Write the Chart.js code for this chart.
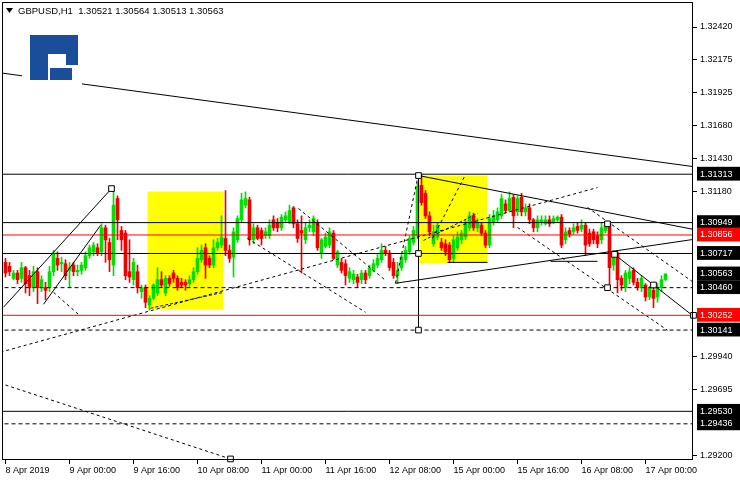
<!DOCTYPE html>
<html>
<head>
<meta charset="utf-8">
<title>GBPUSD H1</title>
<script src="https://cdn.jsdelivr.net/npm/chart.js@4.4.1/dist/chart.umd.min.js"></script>
<style>
  html, body { margin: 0; padding: 0; background: #fff; }
  canvas { display: block; }
</style>
</head>
<body>
<canvas id="chart" width="740" height="480"></canvas>
<script>
const symbolName = 'GBPUSD,H1';

// one row per H1 bar: [open, high, low, close]
const candles = [
  [1.3065, 1.3068, 1.3054, 1.3057], [1.3062, 1.3065, 1.3055, 1.3058], [1.3053, 1.3059, 1.3052, 1.3057], [1.3057, 1.3059, 1.3049, 1.3052],
  [1.3053, 1.3065, 1.3050, 1.3061], [1.3061, 1.3062, 1.3042, 1.3049], [1.3055, 1.3059, 1.3040, 1.3046], [1.3046, 1.3062, 1.3043, 1.3058],
  [1.3058, 1.3061, 1.3034, 1.3046], [1.3046, 1.3055, 1.3043, 1.3052], [1.3046, 1.3050, 1.3037, 1.3044], [1.3046, 1.3062, 1.3043, 1.3058],
  [1.3058, 1.3074, 1.3055, 1.3072], [1.3068, 1.3073, 1.3059, 1.3063], [1.3064, 1.3069, 1.3058, 1.3065], [1.3064, 1.3067, 1.3052, 1.3055],
  // 9 Apr
  [1.3059, 1.3065, 1.3046, 1.3061], [1.3063, 1.3065, 1.3055, 1.3058], [1.3058, 1.3063, 1.3055, 1.3059], [1.3059, 1.3065, 1.3056, 1.3063],
  [1.3061, 1.3073, 1.3059, 1.3070], [1.3070, 1.3078, 1.3068, 1.3076], [1.3073, 1.3080, 1.3070, 1.3078], [1.3076, 1.3079, 1.3070, 1.3072],
  [1.3073, 1.3094, 1.3070, 1.3091], [1.3091, 1.3093, 1.3065, 1.3082], [1.3080, 1.3083, 1.3058, 1.3067], [1.3063, 1.3121, 1.3055, 1.3108],
  [1.3113, 1.3115, 1.3082, 1.3097], [1.3089, 1.3092, 1.3074, 1.3082], [1.3087, 1.3089, 1.3052, 1.3055], [1.3058, 1.3082, 1.3050, 1.3054],
  [1.3052, 1.3068, 1.3048, 1.3065], [1.3058, 1.3063, 1.3042, 1.3046], [1.3043, 1.3048, 1.3038, 1.3046], [1.3046, 1.3048, 1.3031, 1.3035],
  [1.3033, 1.3040, 1.3029, 1.3038], [1.3038, 1.3049, 1.3037, 1.3048], [1.3042, 1.3061, 1.3040, 1.3052], [1.3052, 1.3058, 1.3046, 1.3048],
  // 10 Apr
  [1.3042, 1.3055, 1.3040, 1.3053], [1.3053, 1.3055, 1.3047, 1.3049], [1.3057, 1.3059, 1.3050, 1.3053], [1.3053, 1.3055, 1.3044, 1.3046],
  [1.3050, 1.3053, 1.3046, 1.3048], [1.3050, 1.3052, 1.3044, 1.3048], [1.3049, 1.3055, 1.3047, 1.3052], [1.3052, 1.3061, 1.3050, 1.3058],
  [1.3058, 1.3076, 1.3056, 1.3068], [1.3067, 1.3078, 1.3065, 1.3074], [1.3076, 1.3079, 1.3053, 1.3063], [1.3068, 1.3070, 1.3061, 1.3063],
  [1.3063, 1.3082, 1.3061, 1.3076], [1.3076, 1.3083, 1.3074, 1.3080], [1.3078, 1.3100, 1.3076, 1.3084], [1.3083, 1.3119, 1.3070, 1.3074],
  [1.3074, 1.3078, 1.3065, 1.3068], [1.3069, 1.3091, 1.3054, 1.3088], [1.3082, 1.3100, 1.3080, 1.3098], [1.3097, 1.3117, 1.3095, 1.3112],
  [1.3108, 1.3118, 1.3106, 1.3113], [1.3112, 1.3114, 1.3078, 1.3082], [1.3082, 1.3094, 1.3079, 1.3091], [1.3091, 1.3093, 1.3082, 1.3083],
  // 11 Apr
  [1.3089, 1.3091, 1.3078, 1.3083], [1.3085, 1.3091, 1.3083, 1.3088], [1.3085, 1.3097, 1.3083, 1.3093], [1.3097, 1.3100, 1.3089, 1.3091],
  [1.3095, 1.3098, 1.3088, 1.3091], [1.3091, 1.3101, 1.3089, 1.3099], [1.3097, 1.3103, 1.3095, 1.3100], [1.3095, 1.3108, 1.3094, 1.3104],
  [1.3106, 1.3107, 1.3091, 1.3094], [1.3094, 1.3097, 1.3080, 1.3083], [1.3089, 1.3100, 1.3057, 1.3087], [1.3082, 1.3095, 1.3079, 1.3091],
  [1.3091, 1.3097, 1.3088, 1.3093], [1.3088, 1.3100, 1.3085, 1.3098], [1.3095, 1.3097, 1.3074, 1.3076], [1.3072, 1.3083, 1.3068, 1.3082],
  [1.3077, 1.3087, 1.3076, 1.3084], [1.3078, 1.3091, 1.3076, 1.3088], [1.3087, 1.3089, 1.3067, 1.3068], [1.3063, 1.3074, 1.3061, 1.3073],
  [1.3065, 1.3068, 1.3057, 1.3059], [1.3064, 1.3067, 1.3048, 1.3055], [1.3053, 1.3061, 1.3050, 1.3058], [1.3052, 1.3059, 1.3049, 1.3056],
  // 12 Apr
  [1.3054, 1.3056, 1.3046, 1.3050], [1.3052, 1.3059, 1.3049, 1.3057], [1.3057, 1.3059, 1.3049, 1.3052], [1.3055, 1.3063, 1.3053, 1.3061],
  [1.3059, 1.3067, 1.3058, 1.3064], [1.3063, 1.3071, 1.3061, 1.3068], [1.3067, 1.3079, 1.3065, 1.3074], [1.3074, 1.3077, 1.3070, 1.3072],
  [1.3072, 1.3074, 1.3059, 1.3061], [1.3065, 1.3068, 1.3053, 1.3055], [1.3055, 1.3065, 1.3049, 1.3059], [1.3061, 1.3071, 1.3059, 1.3069],
  [1.3067, 1.3077, 1.3065, 1.3074], [1.3073, 1.3085, 1.3071, 1.3083], [1.3080, 1.3092, 1.3078, 1.3089], [1.3085, 1.3125, 1.3083, 1.3122],
  [1.3123, 1.3131, 1.3108, 1.3110], [1.3117, 1.3119, 1.3098, 1.3100], [1.3100, 1.3103, 1.3085, 1.3088], [1.3079, 1.3093, 1.3077, 1.3088],
  [1.3084, 1.3095, 1.3082, 1.3093], [1.3080, 1.3083, 1.3074, 1.3076], [1.3079, 1.3082, 1.3070, 1.3073], [1.3078, 1.3080, 1.3065, 1.3067],
  // 15 Apr
  [1.3068, 1.3085, 1.3065, 1.3082], [1.3076, 1.3088, 1.3074, 1.3084], [1.3082, 1.3089, 1.3079, 1.3087], [1.3084, 1.3097, 1.3082, 1.3094],
  [1.3091, 1.3103, 1.3089, 1.3100], [1.3100, 1.3102, 1.3089, 1.3091], [1.3091, 1.3098, 1.3088, 1.3095], [1.3093, 1.3095, 1.3085, 1.3087],
  [1.3087, 1.3089, 1.3076, 1.3078], [1.3078, 1.3101, 1.3076, 1.3098], [1.3095, 1.3104, 1.3093, 1.3100], [1.3097, 1.3106, 1.3095, 1.3103],
  [1.3100, 1.3116, 1.3098, 1.3113], [1.3109, 1.3112, 1.3102, 1.3104], [1.3104, 1.3118, 1.3103, 1.3113], [1.3114, 1.3116, 1.3091, 1.3100],
  [1.3103, 1.3115, 1.3100, 1.3113], [1.3114, 1.3117, 1.3100, 1.3103], [1.3103, 1.3109, 1.3100, 1.3106], [1.3106, 1.3109, 1.3094, 1.3097],
  [1.3097, 1.3098, 1.3088, 1.3091], [1.3091, 1.3100, 1.3088, 1.3097], [1.3095, 1.3100, 1.3093, 1.3097], [1.3094, 1.3100, 1.3093, 1.3097],
  // 16 Apr
  [1.3097, 1.3100, 1.3092, 1.3094], [1.3095, 1.3100, 1.3094, 1.3098], [1.3097, 1.3100, 1.3095, 1.3099], [1.3099, 1.3101, 1.3076, 1.3078],
  [1.3082, 1.3091, 1.3079, 1.3088], [1.3089, 1.3091, 1.3084, 1.3086], [1.3088, 1.3094, 1.3086, 1.3091], [1.3092, 1.3095, 1.3087, 1.3089],
  [1.3090, 1.3097, 1.3088, 1.3093], [1.3093, 1.3095, 1.3070, 1.3078], [1.3087, 1.3090, 1.3077, 1.3079], [1.3088, 1.3090, 1.3079, 1.3082],
  [1.3085, 1.3088, 1.3076, 1.3079], [1.3082, 1.3095, 1.3079, 1.3091], [1.3089, 1.3095, 1.3087, 1.3093], [1.3094, 1.3095, 1.3046, 1.3061],
  [1.3063, 1.3074, 1.3059, 1.3072], [1.3072, 1.3074, 1.3042, 1.3052], [1.3053, 1.3055, 1.3044, 1.3048], [1.3046, 1.3059, 1.3043, 1.3057],
  [1.3053, 1.3061, 1.3049, 1.3058], [1.3059, 1.3061, 1.3048, 1.3050], [1.3050, 1.3053, 1.3044, 1.3046], [1.3046, 1.3055, 1.3043, 1.3053],
  // 17 Apr
  [1.3048, 1.3049, 1.3036, 1.3039], [1.3039, 1.3047, 1.3037, 1.3046], [1.3044, 1.3047, 1.3031, 1.3038], [1.3039, 1.3049, 1.3035, 1.3046],
  [1.3046, 1.3055, 1.3043, 1.3052], [1.30521, 1.30564, 1.30513, 1.30563]
];

const timeLabels = ['8 Apr 2019', '9 Apr 00:00', '9 Apr 16:00', '10 Apr 08:00', '11 Apr 00:00', '11 Apr 16:00',
  '12 Apr 08:00', '15 Apr 00:00', '15 Apr 16:00', '16 Apr 08:00', '17 Apr 00:00'];
const timeTickBars = [0, 16, 32, 48, 64, 80, 96, 112, 128, 144, 160];

const priceTicks = [1.32420, 1.32175, 1.31925, 1.31680, 1.31430, 1.31180, 1.29940, 1.29695, 1.29200];
const markedPrices = [1.31313, 1.30949, 1.30717, 1.30563, 1.30460, 1.30141, 1.29530, 1.29436];
const redPrices = [1.30856, 1.30252];

// horizontal levels
const solidLevels = [1.31313, 1.30949, 1.30717, 1.29530];
const dashedLevels = [1.30460, 1.30141, 1.29436];

// rectangles: [fromBar, toBar, top, bottom]
const zones = [[35.5, 54.5, 1.31183, 1.30298], [103.5, 120.5, 1.31303, 1.30643]];

// segments: [bar1, price1, bar2, price2]
const solidLines = [
  [-1.25, 1.32075, 172, 1.3137],
  [97.5, 1.30493, 172, 1.30823],
  [103.25, 1.31303, 172, 1.30898],
  [103.25, 1.31303, 103.25, 1.30133],
  [152.25, 1.3071, 172, 1.30245],
  [-0.5, 1.30313, 26.5, 1.31205],
  [9.5, 1.30335, 23.75, 1.30928],
  [136.25, 1.30658, 148, 1.30658],
  [110.5, 1.3065, 120.5, 1.3065]
];
const dashedLines = [
  [-1.25, 1.29975, 148, 1.31213],
  [12, 1.30425, 18.75, 1.30245],
  [0, 1.29728, 56.25, 1.29172],
  [128, 1.30913, 165.5, 1.3014],
  [145.5, 1.31063, 172, 1.3050],
  [60.5, 1.3083, 90, 1.30275],
  [73.25, 1.31055, 95, 1.30515],
  [97.5, 1.30493, 103, 1.3128],
  [106.75, 1.3083, 115, 1.3131]
];
const blueLines = [
  [36.25, 1.30305, 54.5, 1.30425],
  [104.5, 1.30815, 118, 1.31018]
];
const anchors = [
  [26.5, 1.31205], [103.25, 1.31303], [103.25, 1.30717], [103.25, 1.30141],
  [150.5, 1.3094], [150.5, 1.3046], [152.25, 1.3071], [162, 1.3048], [172, 1.30252], [56.25, 1.29172]
];

const upColor = '#00e000';
const downColor = '#f00000';
const bodyColors = candles.map(c => c[3] >= c[0] ? upColor : downColor);
const boxedPrices = markedPrices.concat(redPrices);
const allPriceTicks = priceTicks.concat(boxedPrices).sort((a, b) => b - a);
const isBoxed = ctx => ctx.tick && boxedPrices.includes(ctx.tick.value);

function segment(seg, color, dash) {
  return {
    type: 'line',
    data: [{ x: seg[0], y: seg[1] }, { x: seg[2], y: seg[3] }],
    borderColor: color,
    borderWidth: 1,
    borderDash: dash,
    pointRadius: 0,
    fill: false,
    order: 1
  };
}

const datasets = [
  {
    type: 'bar',
    data: candles.map((c, i) => ({ x: i, y: [c[2], c[1]] })),
    backgroundColor: bodyColors,
    barThickness: 1,
    grouped: false,
    order: 11
  },
  {
    type: 'bar',
    data: candles.map((c, i) => ({ x: i, y: [c[0], c[3]] })),
    backgroundColor: bodyColors,
    barThickness: 3,
    minBarLength: 1,
    grouped: false,
    order: 10
  }
];
solidLevels.forEach(v => datasets.push(segment([-2, v, 175, v], '#000', [])));
dashedLevels.forEach(v => datasets.push(segment([-2, v, 175, v], '#000', [4, 3])));
redPrices.forEach(v => datasets.push(segment([-2, v, 175, v], '#ff0000', [])));
solidLines.forEach(s => datasets.push(segment(s, '#000', [])));
dashedLines.forEach(s => datasets.push(segment(s, '#000', [3, 3])));
blueLines.forEach(s => datasets.push(segment(s, '#0000ff', [3, 2])));
datasets.push({
  type: 'line',
  data: anchors.map(a => ({ x: a[0], y: a[1] })),
  showLine: false,
  pointStyle: 'rect',
  pointRadius: 4,
  pointBackgroundColor: '#fff',
  pointBorderColor: '#000',
  pointBorderWidth: 1,
  clip: false,
  order: 0
});

const zonesPlugin = {
  id: 'zones',
  beforeDatasetsDraw(chart) {
    const { ctx, scales: { x, y } } = chart;
    ctx.save();
    ctx.fillStyle = '#ffff00';
    zones.forEach(z => {
      const x1 = x.getPixelForValue(z[0]);
      const x2 = x.getPixelForValue(z[1]);
      const y1 = y.getPixelForValue(z[2]);
      const y2 = y.getPixelForValue(z[3]);
      ctx.fillRect(x1, y1, x2 - x1, y2 - y1);
    });
    ctx.restore();
  }
};

const decorPlugin = {
  id: 'decor',
  afterDraw(chart) {
    const { ctx, chartArea: a } = chart;
    ctx.save();
    // frame
    ctx.strokeStyle = '#000';
    ctx.lineWidth = 1;
    ctx.strokeRect(a.left + 0.5, a.top + 0.5, a.right - a.left - 1, a.bottom - a.top - 1);

    // logo
    ctx.fillStyle = '#fff';
    ctx.fillRect(22, 30, 60, 56);
    ctx.fillStyle = '#1a4e9b';
    ctx.fillRect(30, 35, 48, 19);
    ctx.fillRect(30, 54, 18, 26);
    ctx.fillRect(66, 54, 12, 11);
    ctx.fillRect(50, 68, 22, 12);

    // title
    ctx.fillStyle = '#000';
    ctx.beginPath();
    ctx.moveTo(6, 8);
    ctx.lineTo(13, 8);
    ctx.lineTo(9.5, 13);
    ctx.closePath();
    ctx.fill();
    const last = candles[candles.length - 1];
    ctx.font = '9.5px "Liberation Sans", Arial, sans-serif';
    ctx.textBaseline = 'middle';
    ctx.fillText(symbolName + '  ' + last.map(v => v.toFixed(5)).join(' '), 18, 11);
    ctx.restore();
  }
};

Chart.defaults.font.family = '"Liberation Sans", Arial, sans-serif';
Chart.defaults.font.size = 9;
Chart.defaults.color = '#000';

new Chart(document.getElementById('chart'), {
  type: 'bar',
  data: { datasets },
  options: {
    responsive: false,
    animation: false,
    events: [],
    layout: { autoPadding: false, padding: { left: 2, top: 2, right: 0, bottom: 0 } },
    plugins: { legend: { display: false }, tooltip: { enabled: false } },
    scales: {
      x: {
        type: 'linear',
        min: -0.875,
        max: 171.875,
        offset: false,
        afterBuildTicks: s => { s.ticks = timeTickBars.map(v => ({ value: v })); },
        afterFit: s => { s.height = 20; s.paddingLeft = 0; s.paddingRight = 0; },
        border: { display: false },
        grid: { offset: false, drawOnChartArea: false, tickLength: 4, color: '#000' },
        ticks: {
          autoSkip: false,
          maxRotation: 0,
          align: 'start',
          padding: 1,
          color: '#000',
          callback: (v, i) => timeLabels[i]
        }
      },
      y: {
        type: 'linear',
        position: 'right',
        min: 1.29164,
        max: 1.32608,
        afterBuildTicks: s => { s.ticks = allPriceTicks.map(v => ({ value: v })); },
        afterFit: s => { s.width = 47; s.paddingTop = 0; s.paddingBottom = 0; },
        border: { display: false },
        grid: {
          drawOnChartArea: false,
          tickLength: 4,
          color: ctx => isBoxed(ctx) ? 'rgba(0,0,0,0)' : '#000'
        },
        ticks: {
          autoSkip: false,
          padding: 3,
          color: ctx => isBoxed(ctx) ? '#fff' : '#000',
          showLabelBackdrop: ctx => isBoxed(ctx),
          backdropColor: ctx => (ctx.tick && redPrices.includes(ctx.tick.value)) ? '#ff0000' : '#000',
          backdropPadding: { left: 3, right: 8, top: 2, bottom: 1 },
          callback: v => v.toFixed(5)
        }
      }
    }
  },
  plugins: [zonesPlugin, decorPlugin]
});
</script>
</body>
</html>
